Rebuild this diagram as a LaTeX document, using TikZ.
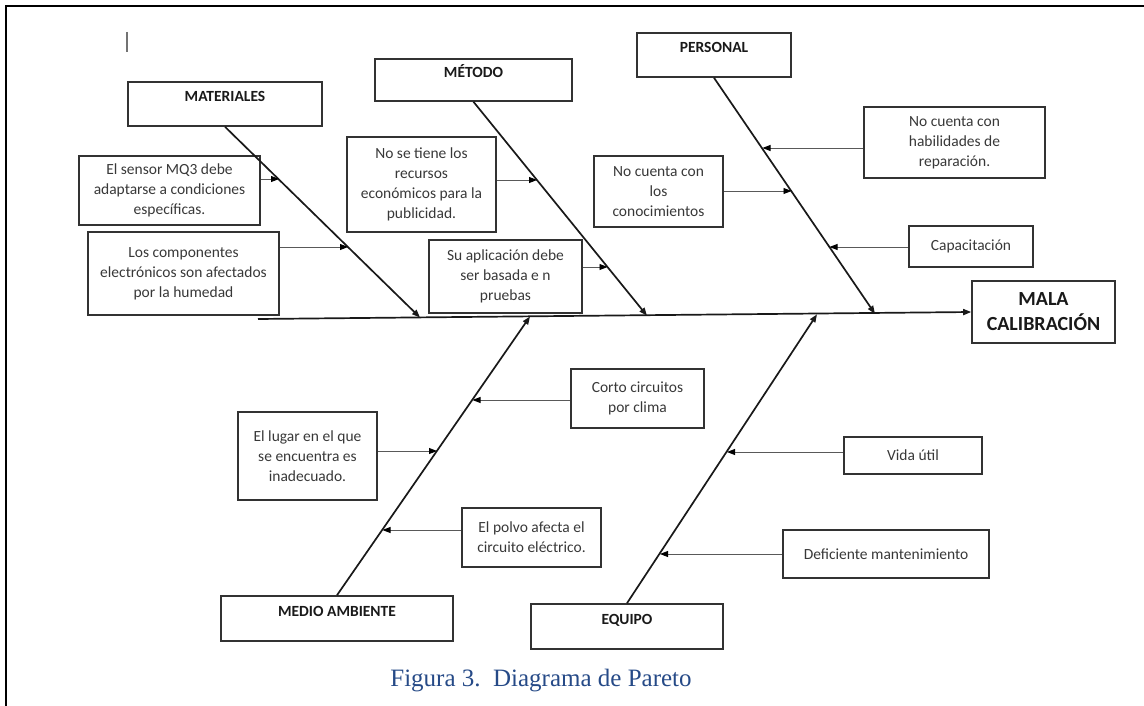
\documentclass[tikz,border=0pt]{standalone}
\usepackage{fontspec}
\setmainfont{Carlito}
\newfontfamily\capfont{Liberation Serif}
\usepackage{tikz}
\usetikzlibrary{arrows.meta,calc}
\usepackage{xcolor}
\definecolor{capblue}{RGB}{38,74,135}
\definecolor{boxgray}{RGB}{50,50,50}
\newcommand{\cf}{\fontsize{15.5}{20}\selectfont}
\newcommand{\hf}{\fontsize{15.5}{20}\selectfont\bfseries}
\tikzset{
  box/.style={draw=boxgray,line width=1.6pt,inner sep=0pt,align=center,font=\cf,text=black!78},
  header/.style={box,font=\hf,text=black!90,text height=11pt,text depth=15pt},
  bone/.style={line width=1.7pt,draw=black!90,-{Triangle[length=8pt,width=6pt]}},
  twig/.style={line width=0.9pt,draw=black!65,-{Triangle[length=8pt,width=6pt,black]}}
}

\begin{document}
\begin{tikzpicture}[x=1pt,y=-1pt]
\useasboundingbox (0,0) rectangle (1144,706);
\draw[line width=2pt] (6,706) -- (6,6) -- (1144,6);
\draw[line width=1.4pt,black!55] (127,32) -- (127,52);
\node[header,minimum width=194,minimum height=44] (mat) at (225,104) {MATERIALES};
\node[header,minimum width=197,minimum height=42] (met) at (473.5,80) {MÉTODO};
\node[header,minimum width=154,minimum height=44] (per) at (714,55) {PERSONAL};
\node[header,minimum width=232,minimum height=45] (med) at (337,618.5) {MEDIO AMBIENTE};
\node[header,minimum width=192,minimum height=45] (equ) at (627,626.5) {EQUIPO};
\node[box,font=\fontsize{20}{25}\selectfont\bfseries,text=black!90,minimum width=143,minimum height=62] (mala) at (1043.5,312) {MALA\\CALIBRACIÓN};
\node[box,minimum width=181,minimum height=69] (sensor) at (169.5,190.5) {El sensor MQ3 debe\\adaptarse a condiciones\\específicas.};
\node[box,minimum width=191,minimum height=83] (comp) at (183.5,273.5) {Los componentes\\electrónicos son afectados\\por la humedad};
\node[box,minimum width=149,minimum height=95] (recur) at (421.5,184.5) {No se tiene los\\recursos\\económicos para la\\publicidad.};
\node[box,minimum width=153,minimum height=73] (aplic) at (505.5,276.5) {Su aplicación debe\\ser basada e n\\pruebas};
\node[box,minimum width=129,minimum height=71] (conoc) at (658.5,191.5) {No cuenta con\\los\\conocimientos};
\node[box,minimum width=181,minimum height=71] (habil) at (954.5,142.5) {No cuenta con\\habilidades de\\reparación.};
\node[box,minimum width=124,minimum height=41] (capac) at (971,246.5) {Capacitación};
\node[box,minimum width=133,minimum height=59] (corto) at (637.5,398.5) {Corto circuitos\\por clima};
\node[box,minimum width=139,minimum height=88] (lugar) at (307.5,456) {El lugar en el que\\se encuentra es\\inadecuado.};
\node[box,minimum width=139,minimum height=59] (polvo) at (531.5,537.5) {El polvo afecta el\\circuito eléctrico.};
\node[box,minimum width=138,minimum height=37] (vida) at (913,455.5) {Vida útil};
\node[box,minimum width=206,minimum height=48] (defic) at (886,554) {Deficiente mantenimiento};
\coordinate (tail) at (258,319);
\coordinate (jmat) at (420,317.5);
\coordinate (jmet) at (647,315.7);
\coordinate (jper) at (875,313.8);
\coordinate (jmed) at (530,316.5);
\coordinate (jequ) at (817,314.3);
\coordinate (a1) at (279,179);
\coordinate (a2) at (348,247);
\coordinate (a3) at (537,180);
\coordinate (a4) at (607.5,267);
\coordinate (a5) at (762.5,148);
\coordinate (a6) at (791.5,191);
\coordinate (a7) at (829.5,247);
\coordinate (a8) at (472.5,400);
\coordinate (a9) at (437,451);
\coordinate (a10) at (382.5,530);
\coordinate (a11) at (727,452);
\coordinate (a12) at (660,554);
\draw[bone] (tail) -- (mala.west);
\draw[bone] (mat.south) -- (jmat);
\draw[bone] (met.south) -- (jmet);
\draw[bone] (per.south) -- (jper);
\draw[bone] (med.north) -- (jmed);
\draw[bone] (equ.north) -- (jequ);
\draw[twig] (sensor.east |- a1) -- (a1);
\draw[twig] (comp.east |- a2) -- (a2);
\draw[twig] (recur.east |- a3) -- (a3);
\draw[twig] (aplic.east |- a4) -- (a4);
\draw[twig] (habil.west |- a5) -- (a5);
\draw[twig] (conoc.east |- a6) -- (a6);
\draw[twig] (capac.west |- a7) -- (a7);
\draw[twig] (corto.west |- a8) -- (a8);
\draw[twig] (lugar.east |- a9) -- (a9);
\draw[twig] (polvo.west |- a10) -- (a10);
\draw[twig] (vida.west |- a11) -- (a11);
\draw[twig] (defic.west |- a12) -- (a12);
\node[font=\capfont\fontsize{25}{30}\selectfont,text=capblue,anchor=base] (cap) at (541,686) {Figura 3.\ \ Diagrama de Pareto};
\end{tikzpicture}
\end{document}
